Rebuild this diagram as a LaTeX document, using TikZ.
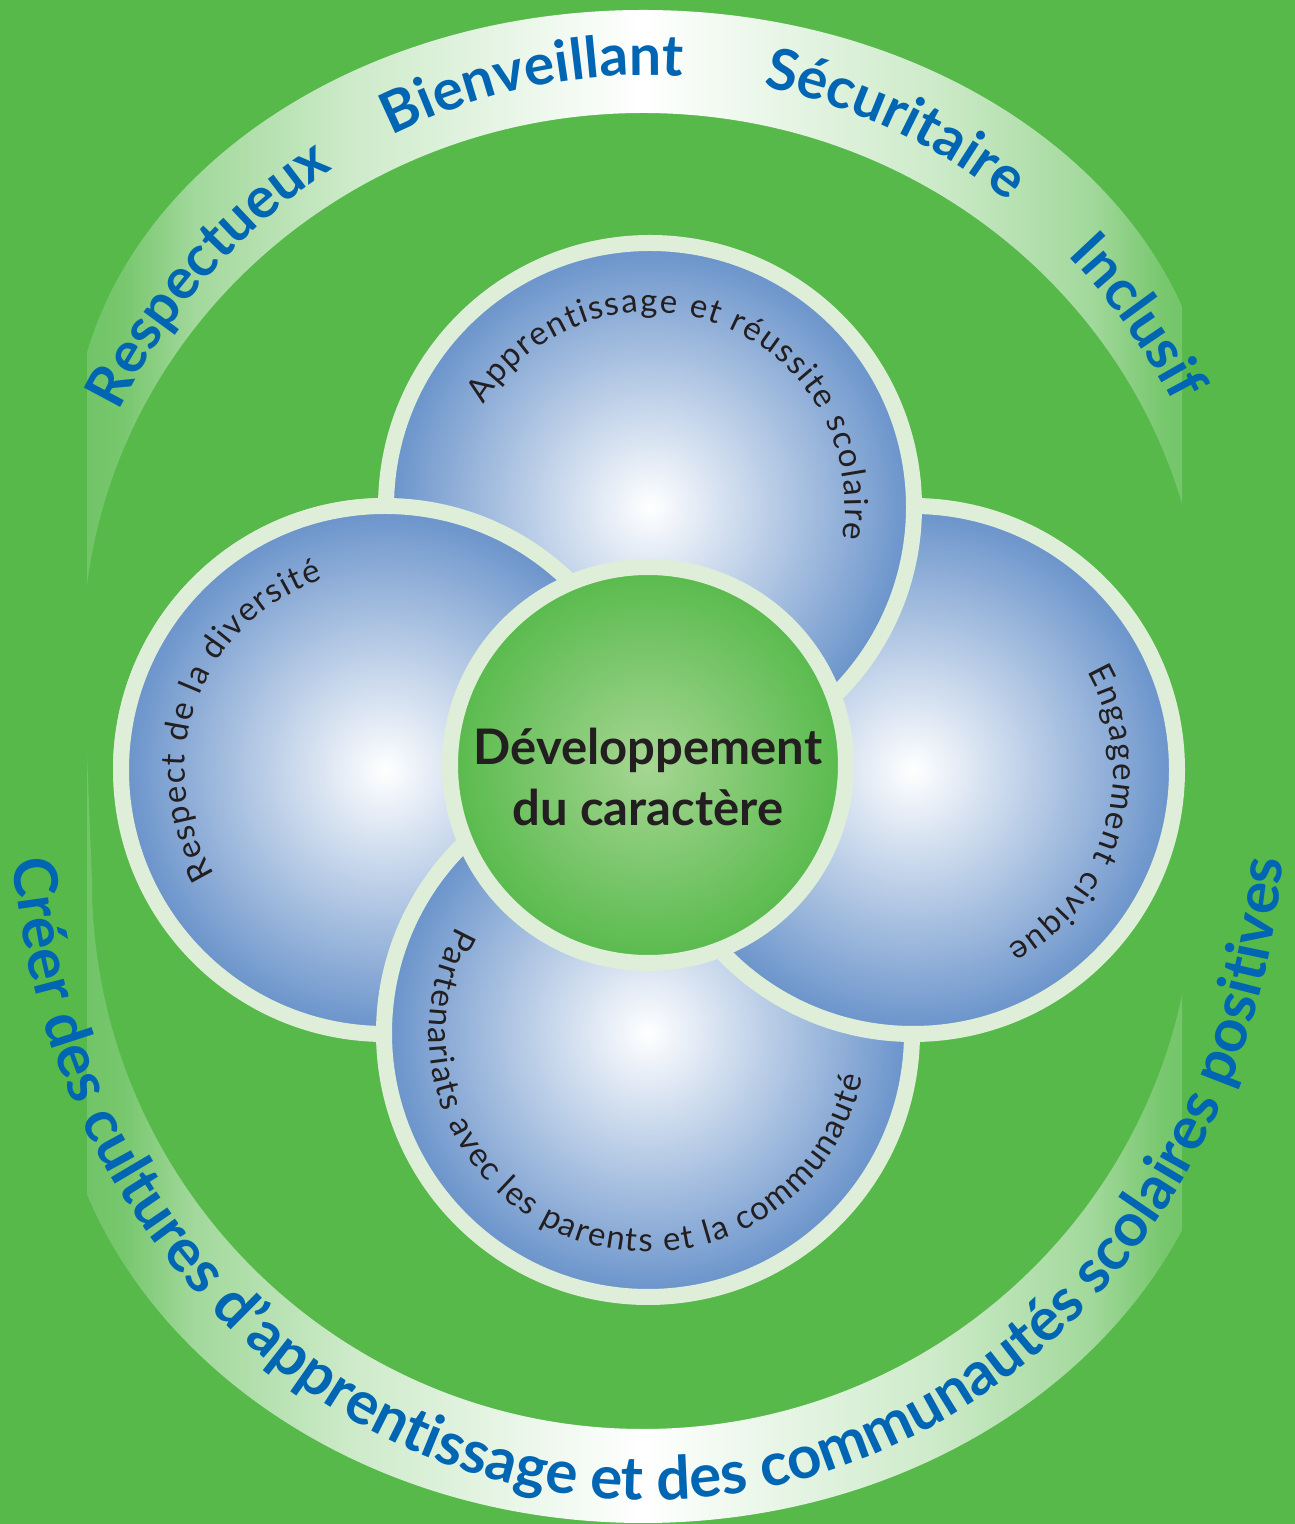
\documentclass[tikz,border=0pt]{standalone}
\usepackage{fontspec}
\setmainfont{Lato}
\usetikzlibrary{decorations.text}

\definecolor{meadow}{HTML}{56B94A}
\definecolor{rim}{HTML}{DFEED8}
\definecolor{ballblue}{HTML}{6892CA}
\definecolor{ringblue}{HTML}{0066B3}
\definecolor{ink}{HTML}{231F20}
\definecolor{hubinner}{HTML}{A6D693}
\definecolor{hubouter}{HTML}{58BA4C}
\colorlet{fadeA}{meadow!88!white}
\colorlet{fadeB}{meadow!80!white}
\colorlet{fadeC}{meadow!55!white}
\colorlet{fadeD}{meadow!30!white}
\colorlet{fadeE}{meadow!10!white}
\pgfdeclarehorizontalshading{bandfade}{100bp}{color(0bp)=(fadeA); color(25bp)=(fadeA);
  color(28bp)=(fadeB); color(31bp)=(fadeC); color(37.5bp)=(fadeD); color(45.75bp)=(fadeE);
  color(50bp)=(white); color(54.25bp)=(fadeE); color(62.5bp)=(fadeD); color(69bp)=(fadeC);
  color(72bp)=(fadeB); color(75bp)=(fadeA); color(100bp)=(fadeA)}

\newcommand\ringfont{\fontsize{57}{60}\selectfont\bfseries}
\newcommand\basefont{\fontsize{60}{64}\selectfont\bfseries}
\newcommand\bubblefont{\fontsize{33}{36}\selectfont\kern1.6pt}

\tikzset{
  bubble/.style={draw=rim, line width=16pt, inner color=white, outer color=ballblue},
  hub/.style={draw=rim, line width=16pt, inner color=hubinner, outer color=hubouter},
  ringword/.style={decorate, decoration={text along path, text align=center,
      text color=ringblue, text={|\ringfont|#1}}},
  baseword/.style={decorate, decoration={text along path, text align=center,
      text color=ringblue, text={|\basefont|#1}}},
  bubbleword/.style={decorate, decoration={text along path, text align=center,
      text color=ink, text={|\bubblefont|#1}}},
}

\begin{document}
\begin{tikzpicture}[x=1pt, y=1pt]
\useasboundingbox (0,0) rectangle (1295,1524);
\fill[meadow] (0,0) rectangle (1295,1524);

\coordinate (ringtop) at (648,824);
\coordinate (ringbase) at (648,724);
\coordinate (learn) at (650,1017);
\coordinate (diversity) at (385,754);
\coordinate (civic) at (913,754);
\coordinate (partner) at (648,491);
\coordinate (core) at (648,759);

% the pale band round everything
\begin{scope}
  \clip (87,0) rectangle (1182,1524);
  \path[even odd rule, shading=bandfade]
    (73,1074) arc[start angle=180, end angle=0, x radius=570pt, y radius=440pt]
    -- (1233,495) arc[start angle=0, end angle=-180, x radius=590pt, y radius=494pt] -- cycle
    (83,874) arc[start angle=180, end angle=0, x radius=560pt, y radius=537pt]
    -- (1194,643) arc[start angle=0, end angle=-180, x radius=551pt, y radius=548pt] -- cycle;
\end{scope}

\path[ringword=Respectueux] (ringtop) ++(162:597pt and 625pt)
  arc[start angle=162, end angle=112, x radius=597pt, y radius=625pt];
\path[ringword=Bienveillant] (ringtop) ++(126:597pt and 625pt)
  arc[start angle=126, end angle=76, x radius=597pt, y radius=625pt];
\path[ringword=Sécuritaire] (ringtop) ++(91:597pt and 625pt)
  arc[start angle=91, end angle=41, x radius=597pt, y radius=625pt];
\path[ringword=Inclusif] (ringtop) ++(62:597pt and 625pt)
  arc[start angle=62, end angle=12, x radius=597pt, y radius=625pt];
\path[baseword={Créer des cultures d’apprentissage et des communautés scolaires positives}]
  (ringbase) ++(178:637pt and 700pt)
  arc[start angle=178, end angle=362, x radius=637pt, y radius=700pt];

% petals: each one lies over its clockwise neighbour
\path[bubble] (diversity) circle[radius=264pt];
\path[bubble] (partner) circle[radius=264pt];
\path[bubble] (civic) circle[radius=264pt];
\path[bubble] (learn) circle[radius=264pt];
\begin{scope}
  \clip (0,754) rectangle (648,1524);
  \path[bubble] (diversity) circle[radius=264pt];
\end{scope}

\path[bubbleword={Apprentissage et réussite scolaire}] (learn) ++(175:195pt)
  arc[start angle=175, end angle=-35.5, radius=195pt];
\path[bubbleword={Respect de la diversité}] (diversity) ++(225:200pt)
  arc[start angle=225, end angle=95, radius=200pt];
\path[bubbleword={Engagement civique}] (civic) ++(54:200pt)
  arc[start angle=54, end angle=-86, radius=200pt];
\path[bubbleword={Partenariats avec les parents et la communauté}] (partner) ++(129:219pt)
  arc[start angle=129, end angle=370, radius=219pt];

\path[hub] (core) circle[radius=198pt];
\node[align=center, text=ink, font=\fontsize{49}{62}\selectfont\bfseries] (corelabel)
  at (648,747) {Développement\\du caractère};
\end{tikzpicture}
\end{document}
